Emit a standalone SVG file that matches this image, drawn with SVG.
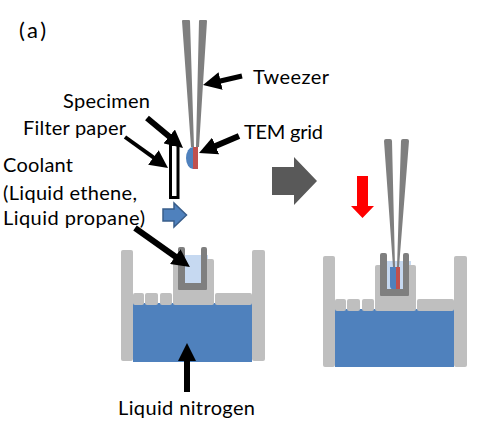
<svg xmlns="http://www.w3.org/2000/svg" width="482" height="425" viewBox="0 0 482 425">
<style>
text{font-family:"Lato","Open Sans","Liberation Sans",sans-serif;font-size:20px;fill:#000}
.wall{fill:#bfbfbf}
.lq{fill:#4f81bd}
.cup{fill:#7f7f7f}
.tw{fill:#7f7f7f}
.lite{fill:#c6d9f1}
.red{fill:#c0504d}
.ar{stroke:#000;stroke-width:5;fill:none;marker-end:url(#ah)}
</style>
<defs>
<marker id="ah" viewBox="0 0 10 10" refX="5" refY="5" markerUnits="userSpaceOnUse" markerWidth="18" markerHeight="18" orient="auto"><path d="M0 0L10 5L0 10Z" fill="#000"/></marker>
</defs>
<rect width="482" height="425" fill="#fff"/>
<g id="label-a"><text x="19" y="38" textLength="27" style="font-size:22px">(a)</text></g>
<g id="tweezer-left">
<path d="M182 21Q182 20 183 20H189Q190 20 190 21L194 147H191Z" class="tw"/>
<path d="M199 21Q199 20 200 20H206Q207 20 207 21L199 147H196Z" class="tw"/>
</g>
<g id="grid-left">
<path d="M193 147A7 11 0 0 0 193 169Z" class="lq"/>
<rect x="193" y="147" width="5" height="22" class="red"/>
</g>
<g id="filter-paper"><rect x="170.500" y="144.500" width="7.500" height="53" fill="#fff" stroke="#000" stroke-width="3"/></g>
<g id="flow-arrow"><path d="M163 209H174V203L186.500 215L174 227V221H163Z" fill="#4f81bd" stroke="#385d8a" stroke-width="1.500"/></g>
<g id="bath-left">
<rect x="133" y="303" width="119" height="59" class="lq"/>
<rect x="121" y="250" width="12" height="111" rx="2" class="wall"/>
<rect x="252" y="250" width="13" height="111" rx="2" class="wall"/>
<rect x="133" y="293" width="11" height="12" rx="2" class="wall"/>
<rect x="145" y="293" width="13" height="12" rx="2" class="wall"/>
<rect x="160" y="293" width="12" height="12" rx="2" class="wall"/>
<rect x="215" y="293" width="37" height="12" rx="2" class="wall"/>
<rect x="173" y="259" width="41" height="46" rx="2" class="wall"/>
<rect x="185" y="255" width="23" height="4" class="lite"/>
<rect x="185" y="259" width="16" height="24" class="lite"/>
<path d="M178 249Q178 247 180 247H183Q185 247 185 249V283H201V249Q201 247 203 247H205Q207 247 207 249V289Q207 290 206 290H179Q178 290 178 289Z" class="cup"/>
</g>
<g id="big-arrow"><path d="M272 167H294V157L317 181L294 205V195H272Z" fill="#595959"/></g>
<g id="red-arrow"><path d="M357 176H368V206H374L362.500 218L351 206H357Z" fill="#f00"/></g>
<g id="bath-right">
<rect x="335" y="309" width="119" height="58" class="lq"/>
<rect x="323" y="256" width="12" height="111" rx="2" class="wall"/>
<rect x="454" y="256" width="13" height="111" rx="2" class="wall"/>
<rect x="335" y="299" width="11" height="12" rx="2" class="wall"/>
<rect x="347" y="299" width="13" height="12" rx="2" class="wall"/>
<rect x="362" y="299" width="12" height="12" rx="2" class="wall"/>
<rect x="417" y="299" width="37" height="12" rx="2" class="wall"/>
<rect x="375" y="265" width="41" height="46" rx="2" class="wall"/>
<rect x="387" y="261" width="24" height="4" class="lite"/>
<rect x="387" y="265" width="16" height="24" class="lite"/>
<path d="M380 255Q380 253 382 253H385Q387 253 387 255V289H403V255Q403 253 405 253H407Q409 253 409 255V295Q409 296 408 296H381Q380 296 380 295Z" class="cup"/>
<path d="M390 267H396V289H392Q390 289 390 285Z" class="lq"/>
<path d="M396 267H400V289H396Z" class="red"/>
<path d="M384 141Q384 139 386 139H390Q392 139 392 141L395 267H393Z" class="tw"/>
<path d="M401 141Q401 139 403 139H407Q409 139 409 141L399 267H397Z" class="tw"/>
</g>
<g id="connectors">
<line x1="242" y1="76" x2="211.800" y2="83" class="ar"/>
<line x1="147" y1="118" x2="176.100" y2="142.200" class="ar" style="stroke-width:6"/>
<line x1="125" y1="137" x2="160.700" y2="162.700" class="ar" style="stroke-width:4"/>
<line x1="239" y1="136" x2="207.300" y2="149.500" class="ar" style="stroke-width:6"/>
<line x1="135" y1="228" x2="182.600" y2="261.800" class="ar" style="stroke-width:6"/>
<line x1="187" y1="392" x2="187" y2="352" class="ar" style="stroke-width:6"/>
</g>
<g id="labels">
<text x="253" y="84" textLength="76">Tweezer</text>
<text x="63" y="108" textLength="87">Specimen</text>
<text x="23" y="135" textLength="103">Filter paper</text>
<text x="244" y="139" textLength="79">TEM grid</text>
<text x="3" y="172" textLength="70">Coolant</text>
<text x="3" y="200" textLength="134">(Liquid ethene,</text>
<text x="3" y="225" textLength="142">Liquid propane)</text>
<text x="118" y="415" textLength="137">Liquid nitrogen</text>
</g>
</svg>
